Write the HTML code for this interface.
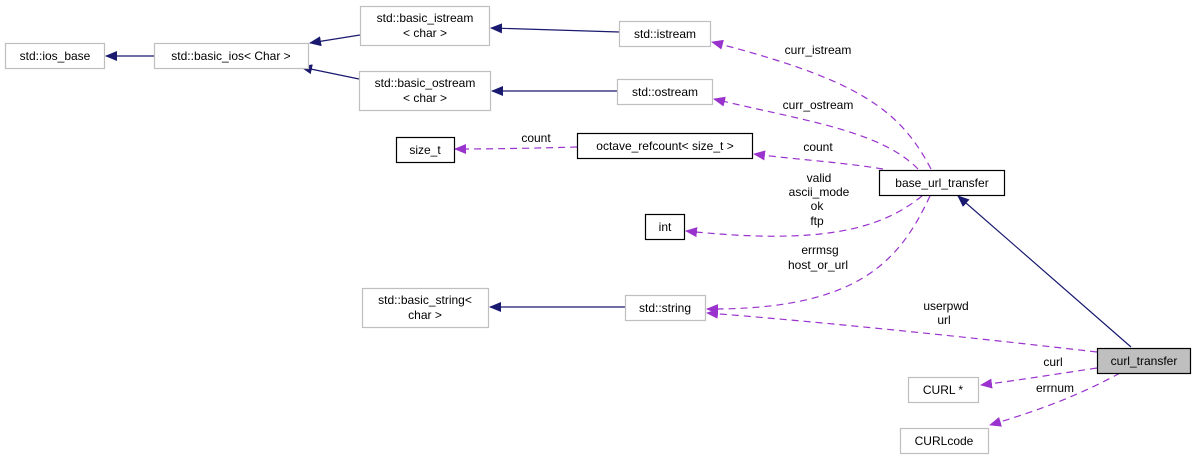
<!DOCTYPE html>
<html><head><meta charset="utf-8"><style>
html,body{margin:0;padding:0;background:#fff;}
svg{display:block;}
text{font-family:"Liberation Sans",sans-serif;font-size:12px;fill:#000;}
</style></head><body>
<svg width="1197" height="461" viewBox="0 0 1197 461" xmlns="http://www.w3.org/2000/svg">
<defs>
<marker id="nb" markerWidth="12" markerHeight="10" refX="11" refY="5" orient="auto" markerUnits="userSpaceOnUse"><path d="M0,0 L12,5 L0,10 z" fill="#191970"/></marker>
<marker id="pp" markerWidth="12" markerHeight="10" refX="11" refY="5" orient="auto" markerUnits="userSpaceOnUse"><path d="M0,0 L12,5 L0,10 z" fill="#9a32cd"/></marker>
</defs>
<g fill="none" stroke="#191970" stroke-width="1.2" marker-end="url(#nb)">
<path d="M154,56 L106,56"/>
<path d="M360,35 L310,43"/>
<path d="M359,79 L301,67"/>
<path d="M619,32 L491,28"/>
<path d="M617,91 L492,91"/>
<path d="M626,307 L490,307"/>
<path d="M1131,347 L958,196"/>
</g>
<g fill="none" stroke="#9a32cd" stroke-width="1.2" stroke-dasharray="7,5" marker-end="url(#pp)">
<path d="M931,169 C900,110 860,80 712,42"/>
<path d="M918,169 C880,130 800,120 714,99"/>
<path d="M883,169 C840,162 800,160 754,154"/>
<path d="M577,147 C540,148 500,149 455,149"/>
<path d="M922,196 C880,230 820,245 686,231"/>
<path d="M930,196 C900,260 860,310 707,309"/>
<path d="M1097,352 C950,335 800,320 707,313"/>
<path d="M1097,368 C1050,375 1020,380 981,385"/>
<path d="M1120,373 C1080,395 1040,410 990,425"/>
</g>
<g stroke-width="1.2">
<rect x="5.5" y="43.5" width="99" height="25" fill="#fff" stroke="#bfbfbf"/>
<rect x="154.5" y="43.5" width="154" height="25" fill="#fff" stroke="#bfbfbf"/>
<rect x="360.5" y="6.5" width="129" height="39" fill="#fff" stroke="#bfbfbf"/>
<rect x="359.5" y="71.5" width="131" height="39" fill="#fff" stroke="#bfbfbf"/>
<rect x="619.5" y="21.5" width="91" height="25" fill="#fff" stroke="#bfbfbf"/>
<rect x="617.5" y="79.5" width="95" height="25" fill="#fff" stroke="#bfbfbf"/>
<rect x="396.5" y="137.5" width="58" height="25" fill="#fff" stroke="#000"/>
<rect x="577.5" y="133.5" width="175" height="25" fill="#fff" stroke="#000"/>
<rect x="879.5" y="170.5" width="125" height="25" fill="#fff" stroke="#000"/>
<rect x="645.5" y="214.5" width="39" height="25" fill="#fff" stroke="#000"/>
<rect x="362.5" y="288.5" width="126" height="39" fill="#fff" stroke="#bfbfbf"/>
<rect x="625.5" y="295.5" width="80" height="25" fill="#fff" stroke="#bfbfbf"/>
<rect x="1097.5" y="348.5" width="93" height="25" fill="#bfbfbf" stroke="#000"/>
<rect x="908.5" y="377.5" width="70" height="25" fill="#fff" stroke="#bfbfbf"/>
<rect x="900.5" y="428.5" width="88" height="25" fill="#fff" stroke="#bfbfbf"/>
</g>
<g text-anchor="middle">
<text x="55" y="60">std::ios_base</text>
<text x="231" y="60">std::basic_ios&lt; Char &gt;</text>
<text x="425" y="22">std::basic_istream</text>
<text x="425" y="37">&lt; char &gt;</text>
<text x="425" y="87">std::basic_ostream</text>
<text x="425" y="102">&lt; char &gt;</text>
<text x="665" y="38">std::istream</text>
<text x="665" y="96">std::ostream</text>
<text x="425" y="154">size_t</text>
<text x="665" y="150">octave_refcount&lt; size_t &gt;</text>
<text x="942" y="187">base_url_transfer</text>
<text x="665" y="231">int</text>
<text x="425" y="304">std::basic_string&lt;</text>
<text x="425" y="319">char &gt;</text>
<text x="665" y="312">std::string</text>
<text x="1144" y="365">curl_transfer</text>
<text x="943" y="394">CURL *</text>
<text x="944" y="445">CURLcode</text>
<text x="818" y="54">curr_istream</text>
<text x="818" y="109">curr_ostream</text>
<text x="818" y="151">count</text>
<text x="536" y="142">count</text>
<text x="819" y="182">valid</text>
<text x="819" y="196">ascii_mode</text>
<text x="817" y="210">ok</text>
<text x="817" y="225">ftp</text>
<text x="820" y="254">errmsg</text>
<text x="818" y="269">host_or_url</text>
<text x="946" y="310">userpwd</text>
<text x="944" y="324">url</text>
<text x="1053" y="366">curl</text>
<text x="1055" y="392">errnum</text>
</g>
</svg>
</body></html>
